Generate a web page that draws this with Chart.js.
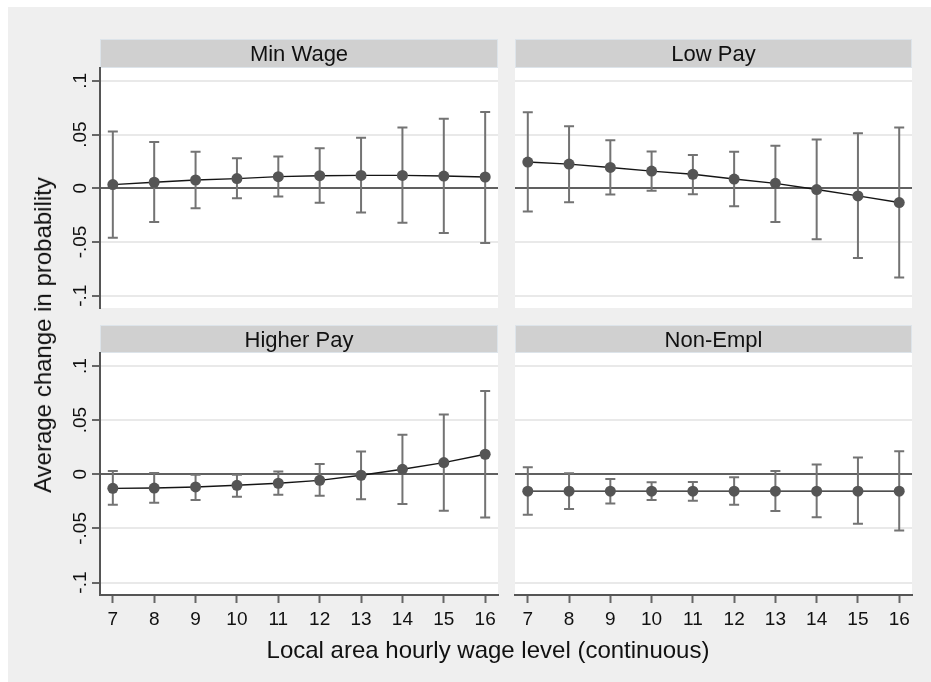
<!DOCTYPE html>
<html>
<head>
<meta charset="utf-8">
<script src="https://cdn.jsdelivr.net/npm/chart.js@4.4.1/dist/chart.umd.min.js"></script>
<style>
  html, body { margin: 0; padding: 0; background: #fff; }
  #fig { position: relative; width: 931px; height: 682px; overflow: hidden; background: #fff; }
  #bg { position: absolute; left: 8px; top: 7px; right: 0; bottom: 0; background: #efefef; }
  #fig canvas { position: absolute; left: 0; top: 0; }
  .ttl { position: absolute; font-family: "Liberation Sans", Arial, sans-serif; font-size: 24px;
         line-height: 1; color: #111; white-space: nowrap; }
  #xt { left: 488px; top: 650px; transform: translate(-50%, -50%); }
  #yt { left: 43px; top: 335px; transform: translate(-50%, -50%) rotate(-90deg); }
</style>
</head>
<body>
<div id="fig">
  <div id="bg"></div>
  <canvas id="p0" width="931" height="682" style="width:931px;height:682px"></canvas>
  <canvas id="p1" width="931" height="682" style="width:931px;height:682px"></canvas>
  <canvas id="p2" width="931" height="682" style="width:931px;height:682px"></canvas>
  <canvas id="p3" width="931" height="682" style="width:931px;height:682px"></canvas>
  <div class="ttl" id="xt">Local area hourly wage level (continuous)</div>
  <div class="ttl" id="yt">Average change in probability</div>
</div>
<script>
// Local area hourly wage levels (x axis)
const wageLevels = [7, 8, 9, 10, 11, 12, 13, 14, 15, 16];

// Y axis ticks and their labels
const yTickValues = [-0.1, -0.05, 0, 0.05, 0.1];
const yTickLabels = ['-.1', '-.05', '0', '.05', '.1'];

// Panel titles
const panelTitles = ['Min Wage', 'Low Pay', 'Higher Pay', 'Non-Empl'];

// Average marginal effects with 95% confidence bounds
const minWageEst = [0.0034, 0.0056, 0.0077, 0.0090, 0.0108, 0.0117, 0.0120, 0.0120, 0.0114, 0.0105];
const minWageLo  = [-0.0460, -0.0315, -0.0185, -0.0093, -0.0077, -0.0136, -0.0225, -0.0320, -0.0417, -0.0510];
const minWageHi  = [0.0528, 0.0430, 0.0340, 0.0280, 0.0296, 0.0373, 0.0470, 0.0565, 0.0648, 0.0710];

const lowPayEst = [0.0244, 0.0225, 0.0194, 0.0160, 0.0130, 0.0086, 0.0046, -0.0012, -0.0071, -0.0133];
const lowPayLo  = [-0.0216, -0.0130, -0.0059, -0.0022, -0.0056, -0.0167, -0.0315, -0.0475, -0.0650, -0.0830];
const lowPayHi  = [0.0707, 0.0577, 0.0448, 0.0343, 0.0310, 0.0340, 0.0395, 0.0454, 0.0512, 0.0565];

const higherPayEst = [-0.0130, -0.0127, -0.0117, -0.0102, -0.0083, -0.0056, -0.0009, 0.0046, 0.0108, 0.0185];
const higherPayLo  = [-0.0281, -0.0262, -0.0238, -0.0207, -0.0188, -0.0198, -0.0231, -0.0275, -0.0336, -0.0400];
const higherPayHi  = [0.0031, 0.0012, -0.0004, -0.0004, 0.0025, 0.0096, 0.0210, 0.0364, 0.0552, 0.0769];

const nonEmplEst = [-0.0156, -0.0156, -0.0156, -0.0156, -0.0156, -0.0156, -0.0156, -0.0156, -0.0156, -0.0156];
const nonEmplLo  = [-0.0373, -0.0320, -0.0269, -0.0238, -0.0244, -0.0281, -0.0340, -0.0398, -0.0457, -0.0519];
const nonEmplHi  = [0.0065, 0.0009, -0.0043, -0.0074, -0.0071, -0.0028, 0.0031, 0.0090, 0.0154, 0.0213];

const FONT = '"Liberation Sans", Arial, sans-serif';
const FIG_W = 931, FIG_H = 682;
const X_MIN = 6.69, X_MAX = 16.31;
const Y_MIN = -0.1115, Y_MAX = 0.112;
const Y_AXIS_W = 92, X_AXIS_H = 40;

// Plot rectangles (in figure pixels) for the 2x2 grid of panels
const panels = [
  { canvas: 'p0', title: panelTitles[0], est: minWageEst,   lo: minWageLo,   hi: minWageHi,
    rect: { l: 100, t: 68,  r: 498, b: 308 }, head: 29, showY: true,  showX: false },
  { canvas: 'p1', title: panelTitles[1], est: lowPayEst,    lo: lowPayLo,    hi: lowPayHi,
    rect: { l: 515, t: 68,  r: 912, b: 308 }, head: 29, showY: false, showX: false },
  { canvas: 'p2', title: panelTitles[2], est: higherPayEst, lo: higherPayLo, hi: higherPayHi,
    rect: { l: 100, t: 353, r: 498, b: 595 }, head: 28, showY: true,  showX: true },
  { canvas: 'p3', title: panelTitles[3], est: nonEmplEst,   lo: nonEmplLo,   hi: nonEmplHi,
    rect: { l: 515, t: 353, r: 912, b: 595 }, head: 28, showY: false, showX: true }
];

// White plot region plus the grey strip holding the panel title
function panelFrame(title, head) {
  return {
    id: 'panelFrame',
    beforeDraw(chart) {
      const { ctx, chartArea: a } = chart;
      ctx.save();
      ctx.fillStyle = '#ffffff';
      ctx.fillRect(a.left, a.top, a.right - a.left, a.bottom - a.top);
      ctx.fillStyle = '#d0d0d0';
      ctx.fillRect(a.left, a.top - head, a.right - a.left, head);
      ctx.strokeStyle = '#dde4ea';
      ctx.lineWidth = 1;
      ctx.strokeRect(a.left + 0.5, a.top - head + 0.5, a.right - a.left - 1, head - 1);
      const fs = 22;
      ctx.font = fs + 'px ' + FONT;
      ctx.fillStyle = '#111';
      ctx.textAlign = 'center';
      ctx.textBaseline = 'alphabetic';
      ctx.fillText(title, (a.left + a.right) / 2, a.top - head / 2 + 0.716 * fs / 2);
      ctx.restore();
    }
  };
}

// Vertical confidence interval whiskers with caps
function intervalBars(lo, hi) {
  return {
    id: 'intervalBars',
    beforeDatasetsDraw(chart) {
      const { ctx, scales: { x, y } } = chart;
      const cap = 5;
      ctx.save();
      ctx.strokeStyle = '#737373';
      ctx.lineWidth = 2;
      wageLevels.forEach((w, i) => {
        const px = x.getPixelForValue(w);
        const yl = y.getPixelForValue(lo[i]);
        const yh = y.getPixelForValue(hi[i]);
        ctx.beginPath();
        ctx.moveTo(px, yl); ctx.lineTo(px, yh);
        ctx.moveTo(px - cap, yl); ctx.lineTo(px + cap, yl);
        ctx.moveTo(px - cap, yh); ctx.lineTo(px + cap, yh);
        ctx.stroke();
      });
      ctx.restore();
    }
  };
}

panels.forEach(p => {
  const r = p.rect;
  const padding = {
    left: p.showY ? r.l - Y_AXIS_W : r.l,
    top: r.t,
    right: FIG_W - r.r,
    bottom: p.showX ? FIG_H - r.b - X_AXIS_H : FIG_H - r.b
  };
  new Chart(document.getElementById(p.canvas), {
    type: 'line',
    data: {
      datasets: [{
        data: wageLevels.map((w, i) => ({ x: w, y: p.est[i] })),
        borderColor: '#151515',
        borderWidth: 1.4,
        pointRadius: 5.5,
        pointBackgroundColor: '#555555',
        pointBorderWidth: 0,
        tension: 0,
        fill: false
      }]
    },
    options: {
      responsive: false,
      animation: false,
      events: [],
      layout: { padding, autoPadding: false },
      plugins: { legend: { display: false }, tooltip: { enabled: false } },
      scales: {
        x: {
          type: 'linear',
          min: X_MIN, max: X_MAX,
          bounds: 'data',
          display: p.showX,
          afterBuildTicks: s => { s.ticks = wageLevels.map(v => ({ value: v })); },
          afterFit: s => { s.height = p.showX ? X_AXIS_H : 0; s.paddingLeft = 0; s.paddingRight = 0; },
          grid: { drawOnChartArea: false, drawTicks: true, tickLength: 8, tickWidth: 2, tickColor: '#666' },
          border: { display: true, color: '#555', width: 2 },
          ticks: { font: { family: FONT, size: 19 }, color: '#111', padding: 5,
                   autoSkip: false, maxRotation: 0, callback: v => String(v) }
        },
        y: {
          type: 'linear',
          min: Y_MIN, max: Y_MAX,
          bounds: 'data',
          afterBuildTicks: s => { s.ticks = yTickValues.map(v => ({ value: v })); },
          afterFit: s => { s.width = p.showY ? Y_AXIS_W : 0; s.paddingTop = 0; s.paddingBottom = 0; },
          grid: {
            color: c => (c.tick && c.tick.value === 0) ? '#606060' : '#e9e9e9',
            lineWidth: 2,
            drawTicks: p.showY, tickLength: 8, tickWidth: 2, tickColor: '#666'
          },
          border: { display: p.showY, color: '#555', width: 2 },
          ticks: {
            display: p.showY,
            font: { family: FONT, size: 19 }, color: '#111',
            minRotation: 90, maxRotation: 90, crossAlign: 'center', padding: -5,
            autoSkip: false,
            callback: v => yTickLabels[yTickValues.indexOf(v)]
          }
        }
      }
    },
    plugins: [panelFrame(p.title, p.head), intervalBars(p.lo, p.hi)]
  });
});
</script>
</body>
</html>
